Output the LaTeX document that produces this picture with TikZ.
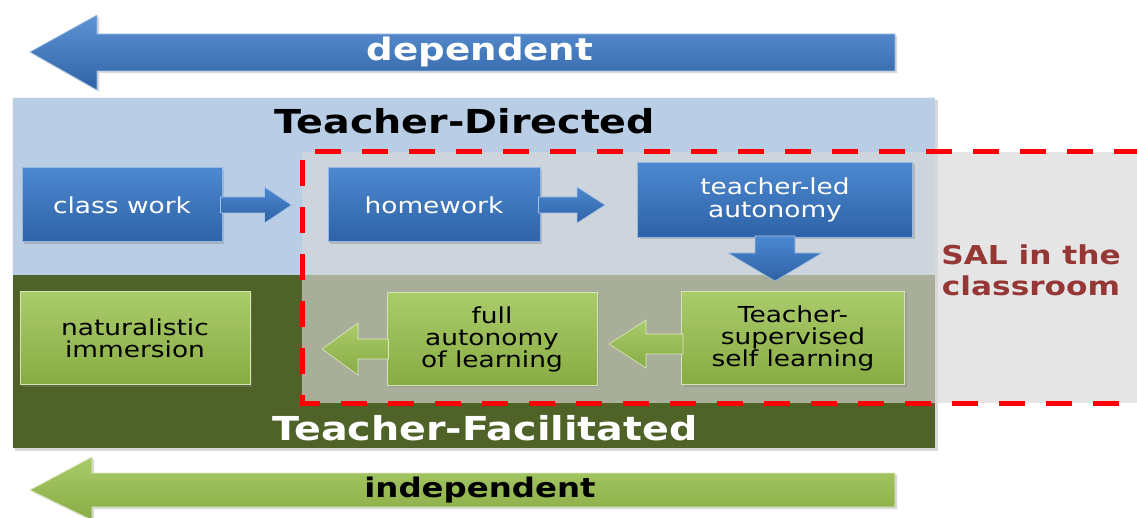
\documentclass[tikz,border=0pt]{standalone}
\usepackage{fontspec}
\setmainfont[FakeStretch=1.2]{DejaVu Sans}
\usetikzlibrary{calc,shadows}
\definecolor{bandblue}{HTML}{B9CDE5}
\definecolor{bandgreen}{HTML}{4F6228}
\definecolor{boxblueT}{HTML}{4C88D0}
\definecolor{boxblueB}{HTML}{2E62A6}
\definecolor{boxgreenT}{HTML}{AACB6A}
\definecolor{boxgreenB}{HTML}{88AC44}
\definecolor{salred}{HTML}{953735}
\definecolor{dashred}{HTML}{FF0000}
\definecolor{salgray}{HTML}{D8D8D8}
\tikzset{
  bluebox/.style={draw=boxblueT!60!white, line width=1pt, top color=boxblueT, bottom color=boxblueB,
    text=white, align=center, font=\fontsize{22}{23}\selectfont, inner sep=0pt,
    drop shadow={shadow xshift=2pt, shadow yshift=-2pt, opacity=0.35}},
  greenbox/.style={draw=boxgreenT!50!white, line width=1pt, top color=boxgreenT, bottom color=boxgreenB,
    text=black, align=center, font=\fontsize{22}{22}\selectfont, inner sep=0pt,
    drop shadow={shadow xshift=2pt, shadow yshift=-2pt, opacity=0.35}},
  bluearrow/.style={top color=boxblueT, bottom color=boxblueB, draw=boxblueT!50!white, line width=0.6pt},
  greenarrow/.style={top color=boxgreenT, bottom color=boxgreenB, draw=boxgreenT!40!white, line width=0.6pt},
  bigtitle/.style={font=\bfseries\fontsize{33}{33}\selectfont},
}
\begin{document}
\begin{tikzpicture}[x=1pt,y=-1pt]
\useasboundingbox (0,0) rectangle (1137,518);
\fill[white] (0,0) rectangle (1137,518);

% top arrow "dependent"
\coordinate (depTip) at (30,52);
\coordinate (depEnd) at (895,52);
\path[top color=boxblueT!90!white, bottom color=boxblueB, draw=boxblueT!50!white, line width=0.6pt,
  drop shadow={shadow xshift=2pt, shadow yshift=-2pt, opacity=0.3}]
  let \p1=(depTip), \p2=(depEnd) in
  (\x1,\y1) -- (\x1+67pt,\y1+37pt) -- (\x1+67pt,\y1+18pt) -- (\x2,\y1+18pt) -- (\x2,\y1-19pt)
  -- (\x1+67pt,\y1-19pt) -- (\x1+67pt,\y1-38pt) -- cycle;
\node[font=\bfseries\fontsize{31}{31}\selectfont, text=white] (dep) at (480,52) {dependent};

% bottom arrow "independent"
\coordinate (indTip) at (30,490);
\coordinate (indEnd) at (895,490);
\path[top color=boxgreenT, bottom color=boxgreenB, draw=boxgreenT!40!white, line width=0.6pt,
  drop shadow={shadow xshift=2pt, shadow yshift=-2pt, opacity=0.3}]
  let \p1=(indTip), \p2=(indEnd) in
  (\x1,\y1) -- (\x1+62pt,\y1+33pt) -- (\x1+62pt,\y1+17pt) -- (\x2,\y1+17pt) -- (\x2,\y1-17pt)
  -- (\x1+62pt,\y1-17pt) -- (\x1+62pt,\y1-30pt) -- cycle;
\node[font=\bfseries\fontsize{27}{27}\selectfont, text=black] (ind) at (480,490) {independent};

% main bands
\fill[black!25, opacity=0.6] (15,100) rectangle (938,451);
\fill[bandblue] (12,97) rectangle (935,275);
\fill[bandgreen] (12,275) rectangle (935,448);
\draw[white!80!bandblue, line width=1pt] (12.5,448) -- (12.5,97.5) -- (935,97.5);

\node[bigtitle, text=black] (td) at (465,121) {Teacher-Directed};
\node[bigtitle, text=white] (tf) at (485,428) {Teacher-Facilitated};

% SAL area
\fill[salgray, opacity=0.65] (302,152) rectangle (1140,403);

% boxes
\node[bluebox, minimum width=200pt, minimum height=74pt] (cw) at (122,205) {class work};
\node[bluebox, minimum width=212pt, minimum height=74pt] (hw) at (434,205) {homework};
\node[bluebox, minimum width=275pt, minimum height=75pt] (tl) at (775,200) {teacher-led\\autonomy};
\node[greenbox, minimum width=223pt, minimum height=93pt] (ts) at (793,338) {Teacher-\\supervised\\self learning};
\node[greenbox, minimum width=210pt, minimum height=92pt] (fa) at (492,339) {full\\autonomy\\of learning};
\node[greenbox, minimum width=230pt, minimum height=93pt] (ni) at (135,338) {naturalistic\\immersion};

% block arrows
\coordinate (faTip) at (322,349);
\coordinate (tsTip) at (609,344);
\path[bluearrow] let \p1=(cw.east), \p2=(hw.west) in
  (\x1-2pt,\y1+8pt) -- (\x2-63pt,\y1+8pt) -- (\x2-63pt,\y1+18pt) -- (\x2-36pt,\y1) -- (\x2-63pt,\y1-18pt)
  -- (\x2-63pt,\y1-8pt) -- (\x1-2pt,\y1-8pt) -- cycle;
\path[bluearrow] let \p1=(hw.east), \p2=(tl.west) in
  (\x1-2pt,\y1+8pt) -- (\x2-60pt,\y1+8pt) -- (\x2-60pt,\y1+18pt) -- (\x2-32pt,\y1) -- (\x2-60pt,\y1-18pt)
  -- (\x2-60pt,\y1-8pt) -- (\x1-2pt,\y1-8pt) -- cycle;
\path[bluearrow] let \p1=(tl.south), \p2=(ts.north) in
  (\x1-20pt,\y1+2pt) -- (\x1-20pt,\y1-15pt) -- (\x1-47pt,\y1-15pt) -- (\x1,\y2+10pt) -- (\x1+47pt,\y1-15pt)
  -- (\x1+20pt,\y1-15pt) -- (\x1+20pt,\y1+2pt) -- cycle;
\path[greenarrow] let \p1=(ts.west), \p2=(tsTip) in
  (\x1+2pt,\y2+10pt) -- (\x2+37pt,\y2+10pt) -- (\x2+37pt,\y2+24pt) -- (\x2,\y2) -- (\x2+37pt,\y2-24pt)
  -- (\x2+37pt,\y2-10pt) -- (\x1+2pt,\y2-10pt) -- cycle;
\path[greenarrow] let \p1=(fa.west), \p2=(faTip) in
  (\x1+2pt,\y2+10pt) -- (\x2+36pt,\y2+10pt) -- (\x2+36pt,\y2+26pt) -- (\x2,\y2) -- (\x2+36pt,\y2-26pt)
  -- (\x2+36pt,\y2-10pt) -- (\x1+2pt,\y2-10pt) -- cycle;

% dashed red frame
\draw[dashred, line width=5pt, dash pattern=on 26pt off 21pt]
  (1140,152) -- (302,152) -- (302,403) -- (1140,403);

\node[text=salred, font=\bfseries\fontsize{26}{31}\selectfont, align=center] (sal) at (1031,270) {SAL in the\\classroom};
\end{tikzpicture}
\end{document}
